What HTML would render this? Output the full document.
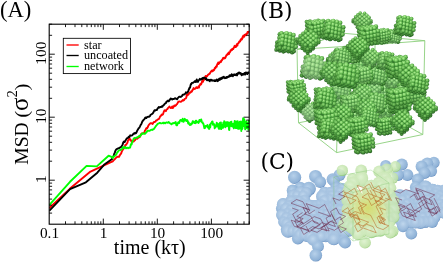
<!DOCTYPE html>
<html><head><meta charset="utf-8"><title>Figure</title><style>html,body{margin:0;padding:0;background:#fff}svg{display:block}</style></head><body>
<svg width="443" height="264" viewBox="0 0 443 264">
<defs><clipPath id="pc"><rect x="49.2" y="24.2" width="200.4" height="200"/></clipPath>
<radialGradient id="bd0" cx="0.42" cy="0.36" r="0.62"><stop offset="0" stop-color="#b4f098"/><stop offset="0.5" stop-color="#7acc62"/><stop offset="0.95" stop-color="#3c8c32"/></radialGradient><radialGradient id="bd1" cx="0.42" cy="0.36" r="0.62"><stop offset="0" stop-color="#a6e68a"/><stop offset="0.5" stop-color="#6ec058"/><stop offset="0.95" stop-color="#36822e"/></radialGradient><radialGradient id="bd2" cx="0.42" cy="0.36" r="0.62"><stop offset="0" stop-color="#96d87c"/><stop offset="0.5" stop-color="#62b24e"/><stop offset="0.95" stop-color="#30762a"/></radialGradient><radialGradient id="bd3" cx="0.42" cy="0.36" r="0.62"><stop offset="0" stop-color="#84c86c"/><stop offset="0.5" stop-color="#56a244"/><stop offset="0.95" stop-color="#2a6a24"/></radialGradient><radialGradient id="bd4" cx="0.42" cy="0.36" r="0.62"><stop offset="0" stop-color="#72b65e"/><stop offset="0.5" stop-color="#4a923a"/><stop offset="0.95" stop-color="#245e20"/></radialGradient><symbol id="c0" overflow="visible"><circle r="8.0" fill="#34782c"/><circle cx="-2.6" cy="-8.1" r="2.15" fill="url(#bd3)"/><circle cx="-2.5" cy="8.2" r="2.15" fill="url(#bd4)"/><circle cx="9.0" cy="-2.8" r="2.15" fill="url(#bd3)"/><circle cx="5.9" cy="-7.3" r="2.15" fill="url(#bd2)"/><circle cx="6.1" cy="9.0" r="2.15" fill="url(#bd4)"/><circle cx="-8.6" cy="-0.8" r="2.15" fill="url(#bd4)"/><circle cx="8.6" cy="0.8" r="2.15" fill="url(#bd3)"/><circle cx="-6.1" cy="-9.0" r="2.15" fill="url(#bd3)"/><circle cx="-5.9" cy="7.3" r="2.15" fill="url(#bd4)"/><circle cx="-9.0" cy="2.8" r="2.15" fill="url(#bd4)"/><circle cx="2.5" cy="-8.2" r="2.15" fill="url(#bd1)"/><circle cx="2.6" cy="8.1" r="2.15" fill="url(#bd4)"/><circle cx="8.2" cy="4.5" r="2.15" fill="url(#bd4)"/><circle cx="-6.5" cy="-5.4" r="2.15" fill="url(#bd3)"/><circle cx="-9.4" cy="6.4" r="2.15" fill="url(#bd4)"/><circle cx="-1.0" cy="-9.1" r="2.15" fill="url(#bd1)"/><circle cx="-0.8" cy="7.3" r="2.15" fill="url(#bd4)"/><circle cx="10.7" cy="-3.7" r="2.15" fill="url(#bd2)"/><circle cx="7.6" cy="-8.2" r="2.15" fill="url(#bd1)"/><circle cx="7.8" cy="8.1" r="2.15" fill="url(#bd4)"/><circle cx="-6.9" cy="-1.8" r="2.15" fill="url(#bd3)"/><circle cx="10.3" cy="-0.1" r="2.15" fill="url(#bd2)"/><circle cx="-4.4" cy="-9.9" r="2.15" fill="url(#bd1)"/><circle cx="-4.2" cy="6.4" r="2.15" fill="url(#bd4)"/><circle cx="7.2" cy="-4.6" r="2.15" fill="url(#bd1)"/><circle cx="-7.3" cy="1.9" r="2.15" fill="url(#bd4)"/><circle cx="4.2" cy="-9.1" r="2.15" fill="url(#bd0)"/><circle cx="4.3" cy="7.2" r="2.15" fill="url(#bd4)"/><circle cx="9.9" cy="3.5" r="2.15" fill="url(#bd2)"/><circle cx="-4.8" cy="-6.3" r="2.15" fill="url(#bd1)"/><circle cx="6.8" cy="-1.0" r="2.15" fill="url(#bd1)"/><circle cx="-7.7" cy="5.5" r="2.15" fill="url(#bd4)"/><circle cx="3.8" cy="-5.5" r="2.15" fill="url(#bd0)"/><circle cx="0.7" cy="-10.0" r="2.15" fill="url(#bd0)"/><circle cx="0.9" cy="6.3" r="2.15" fill="url(#bd3)"/><circle cx="-5.2" cy="-2.7" r="2.15" fill="url(#bd1)"/><circle cx="6.4" cy="2.6" r="2.15" fill="url(#bd2)"/><circle cx="3.4" cy="-1.9" r="2.15" fill="url(#bd0)"/><circle cx="0.3" cy="-6.4" r="2.15" fill="url(#bd0)"/><circle cx="-2.5" cy="5.5" r="2.15" fill="url(#bd3)"/><circle cx="-5.6" cy="0.9" r="2.15" fill="url(#bd2)"/><circle cx="6.0" cy="6.3" r="2.15" fill="url(#bd2)"/><circle cx="3.0" cy="1.8" r="2.15" fill="url(#bd1)"/><circle cx="-0.1" cy="-2.7" r="2.15" fill="url(#bd0)"/><circle cx="-3.1" cy="-7.2" r="2.15" fill="url(#bd0)"/><circle cx="-6.0" cy="4.6" r="2.15" fill="url(#bd3)"/><circle cx="2.6" cy="5.4" r="2.15" fill="url(#bd2)"/><circle cx="-0.5" cy="0.9" r="2.15" fill="url(#bd1)"/><circle cx="-3.5" cy="-3.6" r="2.15" fill="url(#bd0)"/><circle cx="-0.8" cy="4.5" r="2.15" fill="url(#bd2)"/><circle cx="-3.9" cy="0.0" r="2.15" fill="url(#bd1)"/></symbol><symbol id="c1" overflow="visible"><circle r="8.0" fill="#34782c"/><circle cx="-8.3" cy="4.3" r="2.15" fill="url(#bd4)"/><circle cx="5.7" cy="7.5" r="2.15" fill="url(#bd4)"/><circle cx="-2.9" cy="8.1" r="2.15" fill="url(#bd4)"/><circle cx="8.6" cy="-0.6" r="2.15" fill="url(#bd3)"/><circle cx="-8.6" cy="0.6" r="2.15" fill="url(#bd4)"/><circle cx="2.9" cy="-8.1" r="2.15" fill="url(#bd2)"/><circle cx="-5.7" cy="-7.5" r="2.15" fill="url(#bd3)"/><circle cx="8.3" cy="-4.3" r="2.15" fill="url(#bd2)"/><circle cx="-8.8" cy="-3.1" r="2.15" fill="url(#bd4)"/><circle cx="2.3" cy="8.2" r="2.15" fill="url(#bd4)"/><circle cx="-6.3" cy="8.8" r="2.15" fill="url(#bd4)"/><circle cx="8.1" cy="-8.0" r="2.15" fill="url(#bd1)"/><circle cx="-0.5" cy="-7.4" r="2.15" fill="url(#bd1)"/><circle cx="-9.1" cy="-6.8" r="2.15" fill="url(#bd3)"/><circle cx="10.6" cy="3.9" r="2.15" fill="url(#bd3)"/><circle cx="-6.5" cy="5.1" r="2.15" fill="url(#bd4)"/><circle cx="7.5" cy="8.3" r="2.15" fill="url(#bd4)"/><circle cx="-1.1" cy="8.9" r="2.15" fill="url(#bd4)"/><circle cx="10.4" cy="0.2" r="2.15" fill="url(#bd2)"/><circle cx="-6.8" cy="1.4" r="2.15" fill="url(#bd4)"/><circle cx="4.7" cy="-7.3" r="2.15" fill="url(#bd0)"/><circle cx="-3.9" cy="-6.7" r="2.15" fill="url(#bd1)"/><circle cx="7.2" cy="4.6" r="2.15" fill="url(#bd3)"/><circle cx="10.1" cy="-3.5" r="2.15" fill="url(#bd1)"/><circle cx="-7.0" cy="-2.3" r="2.15" fill="url(#bd3)"/><circle cx="4.1" cy="9.0" r="2.15" fill="url(#bd4)"/><circle cx="-4.5" cy="9.6" r="2.15" fill="url(#bd4)"/><circle cx="7.0" cy="0.9" r="2.15" fill="url(#bd1)"/><circle cx="1.3" cy="-6.6" r="2.15" fill="url(#bd0)"/><circle cx="-7.3" cy="-6.0" r="2.15" fill="url(#bd2)"/><circle cx="3.8" cy="5.3" r="2.15" fill="url(#bd3)"/><circle cx="-4.8" cy="5.9" r="2.15" fill="url(#bd4)"/><circle cx="6.7" cy="-2.8" r="2.15" fill="url(#bd0)"/><circle cx="0.7" cy="9.7" r="2.15" fill="url(#bd4)"/><circle cx="3.6" cy="1.6" r="2.15" fill="url(#bd1)"/><circle cx="-5.0" cy="2.2" r="2.15" fill="url(#bd3)"/><circle cx="6.5" cy="-6.5" r="2.15" fill="url(#bd0)"/><circle cx="-2.1" cy="-5.9" r="2.15" fill="url(#bd0)"/><circle cx="0.4" cy="6.0" r="2.15" fill="url(#bd3)"/><circle cx="3.3" cy="-2.1" r="2.15" fill="url(#bd0)"/><circle cx="-5.2" cy="-1.5" r="2.15" fill="url(#bd1)"/><circle cx="0.2" cy="2.3" r="2.15" fill="url(#bd1)"/><circle cx="3.1" cy="-5.8" r="2.15" fill="url(#bd0)"/><circle cx="-5.5" cy="-5.2" r="2.15" fill="url(#bd1)"/><circle cx="-3.0" cy="6.7" r="2.15" fill="url(#bd3)"/><circle cx="-0.1" cy="-1.4" r="2.15" fill="url(#bd0)"/><circle cx="-3.2" cy="3.0" r="2.15" fill="url(#bd2)"/><circle cx="-0.3" cy="-5.1" r="2.15" fill="url(#bd0)"/><circle cx="-3.5" cy="-0.7" r="2.15" fill="url(#bd1)"/></symbol><symbol id="c2" overflow="visible"><circle r="8.0" fill="#34782c"/><circle cx="3.1" cy="-8.9" r="2.15" fill="url(#bd2)"/><circle cx="-2.4" cy="-9.1" r="2.15" fill="url(#bd3)"/><circle cx="5.2" cy="6.9" r="2.15" fill="url(#bd4)"/><circle cx="-5.7" cy="6.4" r="2.15" fill="url(#bd4)"/><circle cx="10.9" cy="0.4" r="2.15" fill="url(#bd3)"/><circle cx="-10.9" cy="-0.4" r="2.15" fill="url(#bd4)"/><circle cx="5.7" cy="-6.4" r="2.15" fill="url(#bd2)"/><circle cx="-5.2" cy="-6.9" r="2.15" fill="url(#bd3)"/><circle cx="2.4" cy="9.1" r="2.15" fill="url(#bd4)"/><circle cx="-3.1" cy="8.9" r="2.15" fill="url(#bd4)"/><circle cx="8.1" cy="2.7" r="2.15" fill="url(#bd4)"/><circle cx="-8.2" cy="2.0" r="2.15" fill="url(#bd4)"/><circle cx="8.4" cy="-3.9" r="2.15" fill="url(#bd2)"/><circle cx="-8.0" cy="-4.6" r="2.15" fill="url(#bd3)"/><circle cx="-0.4" cy="11.3" r="2.15" fill="url(#bd4)"/><circle cx="3.2" cy="-10.8" r="2.15" fill="url(#bd1)"/><circle cx="-2.2" cy="-11.0" r="2.15" fill="url(#bd1)"/><circle cx="5.3" cy="4.9" r="2.15" fill="url(#bd4)"/><circle cx="-5.6" cy="4.5" r="2.15" fill="url(#bd4)"/><circle cx="11.0" cy="-1.5" r="2.15" fill="url(#bd2)"/><circle cx="-10.7" cy="-2.4" r="2.15" fill="url(#bd4)"/><circle cx="5.9" cy="-8.3" r="2.15" fill="url(#bd0)"/><circle cx="0.4" cy="-8.6" r="2.15" fill="url(#bd0)"/><circle cx="-5.0" cy="-8.8" r="2.15" fill="url(#bd2)"/><circle cx="2.5" cy="7.2" r="2.15" fill="url(#bd4)"/><circle cx="-2.9" cy="7.0" r="2.15" fill="url(#bd4)"/><circle cx="8.2" cy="0.8" r="2.15" fill="url(#bd2)"/><circle cx="-8.1" cy="0.1" r="2.15" fill="url(#bd3)"/><circle cx="8.5" cy="-5.9" r="2.15" fill="url(#bd0)"/><circle cx="3.1" cy="-6.1" r="2.15" fill="url(#bd0)"/><circle cx="-2.4" cy="-6.3" r="2.15" fill="url(#bd0)"/><circle cx="-7.8" cy="-6.5" r="2.15" fill="url(#bd2)"/><circle cx="-0.3" cy="9.4" r="2.15" fill="url(#bd4)"/><circle cx="5.4" cy="3.0" r="2.15" fill="url(#bd2)"/><circle cx="-5.5" cy="2.6" r="2.15" fill="url(#bd3)"/><circle cx="5.7" cy="-3.6" r="2.15" fill="url(#bd0)"/><circle cx="0.3" cy="-3.9" r="2.15" fill="url(#bd0)"/><circle cx="-5.2" cy="-4.1" r="2.15" fill="url(#bd1)"/><circle cx="2.6" cy="5.2" r="2.15" fill="url(#bd2)"/><circle cx="-2.8" cy="5.0" r="2.15" fill="url(#bd3)"/><circle cx="8.4" cy="-1.2" r="2.15" fill="url(#bd1)"/><circle cx="2.9" cy="-1.4" r="2.15" fill="url(#bd0)"/><circle cx="-2.5" cy="-1.6" r="2.15" fill="url(#bd1)"/><circle cx="-8.0" cy="-1.8" r="2.15" fill="url(#bd2)"/><circle cx="-0.2" cy="7.5" r="2.15" fill="url(#bd3)"/><circle cx="5.6" cy="1.1" r="2.15" fill="url(#bd1)"/><circle cx="0.1" cy="0.9" r="2.15" fill="url(#bd1)"/><circle cx="-5.3" cy="0.6" r="2.15" fill="url(#bd2)"/><circle cx="2.8" cy="3.3" r="2.15" fill="url(#bd1)"/><circle cx="-2.7" cy="3.1" r="2.15" fill="url(#bd2)"/></symbol><filter id="soft" x="-5%" y="-5%" width="110%" height="110%"><feGaussianBlur stdDeviation="0.3"/></filter><radialGradient id="bl" cx="0.42" cy="0.38" r="0.62"><stop offset="0" stop-color="#b7d1ea"/><stop offset="0.55" stop-color="#9cbcdd"/><stop offset="0.86" stop-color="#8eb1d6"/><stop offset="1" stop-color="#6e94c3"/></radialGradient><radialGradient id="gr" cx="0.42" cy="0.38" r="0.62"><stop offset="0" stop-color="#dcf1cc"/><stop offset="0.55" stop-color="#c8e7b2"/><stop offset="0.86" stop-color="#bce0a4"/><stop offset="1" stop-color="#98ca7a"/></radialGradient><radialGradient id="blc" cx="0.45" cy="0.42" r="0.6"><stop offset="0" stop-color="#c0d7ed"/><stop offset="0.5" stop-color="#a9c5e2"/><stop offset="1" stop-color="#9fbddd" stop-opacity="0"/></radialGradient><radialGradient id="grc" cx="0.45" cy="0.42" r="0.6"><stop offset="0" stop-color="#dcf1cc"/><stop offset="0.5" stop-color="#cbe8b6"/><stop offset="1" stop-color="#c4e4ae" stop-opacity="0"/></radialGradient><radialGradient id="yl" cx="0.5" cy="0.5" r="0.5"><stop offset="0" stop-color="#d6d85c" stop-opacity="0.8"/><stop offset="1" stop-color="#d9d860" stop-opacity="0"/></radialGradient>
</defs>
<rect width="443" height="264" fill="#fff"/>
<g clip-path="url(#pc)" fill="none" stroke-width="1.9" stroke-linejoin="round" stroke-linecap="butt">
<path stroke="#f00" d="M49.2 208.2 L70.0 188.6 L90.5 171.6 L112.0 161.6 L112.7 161.5 L113.4 160.5 L114.1 159.9 L114.8 159.3 L115.5 158.3 L116.2 157.6 L116.9 157.1 L117.6 156.7 L118.3 156.6 L119.0 156.9 L119.7 155.5 L120.4 154.3 L121.1 153.6 L121.8 151.4 L122.5 150.3 L123.2 149.1 L123.9 148.1 L124.6 147.4 L125.3 145.0 L126.0 144.9 L126.7 143.7 L127.4 142.7 L128.1 140.2 L128.8 139.6 L129.5 138.0 L130.2 139.9 L130.9 140.2 L131.6 142.0 L132.3 141.6 L133.0 141.6 L133.7 141.5 L134.4 140.2 L135.1 140.2 L135.8 138.8 L136.5 137.8 L137.2 138.8 L137.9 138.1 L138.6 137.2 L139.3 137.3 L140.0 136.7 L140.7 135.0 L141.4 133.6 L142.1 133.4 L142.8 133.6 L143.5 133.1 L144.2 132.9 L144.9 130.7 L145.6 129.9 L146.3 128.2 L147.0 128.4 L147.7 127.3 L148.4 125.5 L149.1 124.6 L149.8 123.8 L150.5 123.3 L151.2 123.3 L151.9 123.4 L152.6 123.9 L153.3 122.7 L154.0 122.0 L154.7 122.0 L155.4 121.7 L156.1 120.5 L156.8 120.4 L157.5 119.7 L158.2 119.2 L158.9 118.9 L159.6 117.7 L160.3 116.2 L161.0 115.7 L161.7 114.5 L162.4 114.8 L163.1 114.0 L163.8 111.7 L164.5 110.3 L165.2 110.5 L165.9 111.2 L166.6 109.5 L167.3 109.2 L168.0 108.0 L168.7 107.5 L169.4 106.5 L170.1 107.3 L170.8 108.0 L171.5 107.8 L172.2 106.4 L172.9 108.0 L173.6 106.7 L174.3 105.4 L175.0 106.1 L175.7 105.6 L176.4 104.6 L177.1 104.1 L177.8 102.7 L178.5 101.6 L179.2 101.5 L179.9 101.6 L180.6 101.7 L181.3 101.6 L182.0 100.8 L182.7 100.1 L183.4 100.6 L184.1 100.0 L184.8 98.8 L185.5 98.5 L185.9 98.3 L186.4 97.2 L186.8 94.4 L187.3 95.0 L187.7 95.2 L188.2 94.2 L188.6 94.5 L189.1 92.7 L189.5 92.8 L190.0 92.6 L190.4 92.7 L190.9 92.2 L191.3 91.2 L191.8 91.7 L192.2 90.8 L192.7 89.6 L193.1 89.3 L193.6 88.1 L194.0 89.2 L194.5 88.8 L194.9 88.7 L195.4 88.6 L195.8 88.2 L196.3 87.2 L196.7 87.7 L197.2 88.1 L197.6 87.9 L198.1 87.3 L198.5 86.5 L199.0 87.6 L199.4 85.6 L199.9 85.2 L200.3 84.1 L200.8 84.6 L201.2 84.2 L201.7 82.6 L202.1 81.4 L202.6 80.1 L203.0 81.9 L203.5 79.3 L203.9 79.9 L204.4 79.5 L204.8 78.1 L205.3 77.0 L205.7 75.9 L206.2 76.1 L206.6 76.7 L207.1 76.1 L207.5 75.6 L208.0 74.8 L208.4 74.5 L208.9 74.3 L209.3 73.6 L209.8 73.7 L210.2 72.7 L210.7 72.0 L211.1 71.2 L211.6 71.3 L212.0 70.4 L212.5 71.3 L212.9 71.0 L213.4 69.9 L213.8 70.3 L214.3 69.7 L214.7 68.2 L215.2 67.6 L215.5 68.1 L215.8 66.6 L216.1 66.5 L216.4 66.8 L216.7 66.8 L217.0 65.1 L217.3 64.5 L217.6 63.7 L217.9 63.6 L218.2 62.5 L218.5 64.1 L218.8 63.5 L219.1 63.5 L219.4 62.6 L219.7 62.7 L220.0 62.4 L220.3 61.8 L220.6 61.2 L220.9 62.1 L221.2 61.6 L221.5 60.4 L221.8 60.3 L222.1 60.1 L222.4 59.6 L222.7 58.8 L223.0 58.2 L223.3 57.7 L223.6 58.0 L223.9 58.6 L224.2 58.0 L224.5 57.8 L224.8 58.0 L225.1 58.2 L225.4 57.8 L225.7 56.9 L226.0 55.9 L226.3 55.8 L226.6 54.9 L226.9 54.6 L227.2 54.2 L227.5 54.7 L227.8 54.2 L228.1 53.7 L228.4 52.8 L228.7 52.5 L229.0 54.0 L229.3 52.9 L229.6 52.4 L229.9 52.2 L230.2 51.8 L230.5 50.5 L230.8 50.2 L231.1 50.4 L231.4 49.6 L231.7 49.2 L232.0 50.2 L232.3 49.6 L232.6 48.9 L232.9 48.6 L233.2 49.1 L233.5 48.6 L233.8 47.6 L234.1 47.6 L234.4 46.1 L234.7 45.8 L235.0 46.7 L235.3 46.6 L235.6 47.1 L235.9 46.9 L236.2 46.6 L236.5 45.6 L236.8 44.3 L237.1 44.6 L237.4 45.5 L237.7 43.7 L238.0 43.4 L238.3 43.2 L238.6 43.1 L238.9 42.5 L239.2 41.6 L239.5 41.2 L239.8 41.4 L240.1 41.5 L240.4 40.6 L240.7 39.5 L241.0 40.0 L241.3 39.5 L241.6 38.5 L241.9 39.5 L242.2 38.8 L242.5 38.4 L242.8 36.4 L243.1 36.3 L243.4 35.6 L243.7 35.8 L244.0 36.9 L244.3 36.1 L244.6 35.6 L244.9 34.6 L245.2 34.9 L245.5 34.5 L245.8 34.2 L246.1 35.4 L246.4 34.7 L246.7 34.3 L247.0 33.2 L247.3 33.4 L247.6 31.9 L247.9 32.9 L248.2 32.0 L248.5 31.8 L248.8 32.0 L249.1 32.4"/>
<path stroke="#000" d="M49.2 210.8 L70.0 189.1 L85.9 182.3 L97.3 172.7 L104.0 164.8 L111.4 159.5 L112.0 159.1 L112.7 157.2 L113.4 156.6 L114.1 154.2 L114.8 152.6 L115.5 150.6 L116.2 149.5 L116.9 148.9 L117.6 148.8 L118.3 148.2 L119.0 148.2 L119.7 147.9 L120.4 147.1 L121.1 147.1 L121.8 146.0 L122.5 144.9 L123.2 142.6 L123.9 141.6 L124.6 142.1 L125.3 140.8 L126.0 139.7 L126.7 138.6 L127.4 138.1 L128.1 137.7 L128.8 136.6 L129.5 136.9 L130.2 135.3 L130.9 135.6 L131.6 135.6 L132.3 135.2 L133.0 134.3 L133.7 133.5 L134.4 133.7 L135.1 132.7 L135.8 133.4 L136.5 132.5 L137.2 130.7 L137.9 129.6 L138.6 128.3 L139.3 127.8 L140.0 126.4 L140.7 124.9 L141.4 124.0 L142.1 122.0 L142.8 120.8 L143.5 120.0 L144.2 119.4 L144.9 118.2 L145.6 117.4 L146.3 118.0 L147.0 117.2 L147.7 116.9 L148.4 116.6 L149.1 116.8 L149.8 116.3 L150.5 114.9 L151.2 114.5 L151.9 114.1 L152.6 113.5 L153.3 112.7 L154.0 111.1 L154.7 110.2 L155.4 110.5 L156.1 110.0 L156.8 110.1 L157.5 108.7 L158.2 107.8 L158.9 107.0 L159.6 107.5 L160.3 107.0 L161.0 107.0 L161.7 106.3 L162.4 106.8 L163.1 105.6 L163.8 105.1 L164.5 104.1 L165.2 103.4 L165.9 103.1 L166.6 101.4 L167.3 101.4 L168.0 100.5 L168.7 101.3 L169.4 100.6 L170.1 99.3 L170.8 98.5 L171.5 98.9 L172.2 99.5 L172.9 98.9 L173.6 99.0 L174.3 98.9 L175.0 98.2 L175.7 98.4 L176.4 98.9 L177.1 99.3 L177.8 98.1 L178.5 97.4 L179.2 96.7 L179.9 96.7 L180.6 97.0 L181.3 96.6 L182.0 96.0 L182.7 94.6 L183.4 94.7 L184.1 94.5 L184.8 94.0 L185.5 93.3 L185.9 92.3 L186.4 92.9 L186.8 92.7 L187.3 92.8 L187.7 91.7 L188.2 91.4 L188.6 90.0 L189.1 89.0 L189.5 87.7 L190.0 87.8 L190.4 86.0 L190.9 83.9 L191.3 84.1 L191.8 83.0 L192.2 83.0 L192.7 82.7 L193.1 82.7 L193.6 82.3 L194.0 82.2 L194.5 81.4 L194.9 81.1 L195.4 81.4 L195.8 82.1 L196.3 80.7 L196.7 79.5 L197.2 81.3 L197.6 81.8 L198.1 81.7 L198.5 80.4 L199.0 79.9 L199.4 79.6 L199.9 78.8 L200.3 79.7 L200.8 79.5 L201.2 79.5 L201.7 78.7 L202.1 79.1 L202.6 78.0 L203.0 78.7 L203.5 77.7 L203.9 77.7 L204.4 77.7 L204.8 77.6 L205.3 78.6 L205.7 79.1 L206.2 78.3 L206.6 79.9 L207.1 80.4 L207.5 80.2 L208.0 79.7 L208.4 79.8 L208.9 80.2 L209.3 80.9 L209.8 81.2 L210.2 79.6 L210.7 80.1 L211.1 80.2 L211.6 79.8 L212.0 80.7 L212.5 80.6 L212.9 80.4 L213.4 80.5 L213.8 80.6 L214.3 80.9 L214.7 80.2 L215.2 80.9 L215.5 80.4 L215.8 80.9 L216.1 80.1 L216.4 79.7 L216.7 79.5 L217.0 79.5 L217.3 80.3 L217.6 81.2 L217.9 81.0 L218.2 80.4 L218.5 79.7 L218.8 79.6 L219.1 78.7 L219.4 79.5 L219.7 79.9 L220.0 79.4 L220.3 78.3 L220.6 79.1 L220.9 78.8 L221.2 78.0 L221.5 78.9 L221.8 78.7 L222.1 78.5 L222.4 77.3 L222.7 77.6 L223.0 77.8 L223.3 77.5 L223.6 76.8 L223.9 76.7 L224.2 77.8 L224.5 77.9 L224.8 78.3 L225.1 78.1 L225.4 77.7 L225.7 78.0 L226.0 78.1 L226.3 77.3 L226.6 76.9 L226.9 76.9 L227.2 77.6 L227.5 77.2 L227.8 76.8 L228.1 77.1 L228.4 76.7 L228.7 76.3 L229.0 76.7 L229.3 76.4 L229.6 75.3 L229.9 76.3 L230.2 75.7 L230.5 75.3 L230.8 75.7 L231.1 76.0 L231.4 75.5 L231.7 74.1 L232.0 75.4 L232.3 74.8 L232.6 74.9 L232.9 76.2 L233.2 75.1 L233.5 75.2 L233.8 74.6 L234.1 74.2 L234.4 75.1 L234.7 74.9 L235.0 74.7 L235.3 74.6 L235.6 75.1 L235.9 75.2 L236.2 75.1 L236.5 73.9 L236.8 74.6 L237.1 75.4 L237.4 74.0 L237.7 73.2 L238.0 73.8 L238.3 73.8 L238.6 72.9 L238.9 72.4 L239.2 73.4 L239.5 72.7 L239.8 73.1 L240.1 73.7 L240.4 73.5 L240.7 73.0 L241.0 74.0 L241.3 74.4 L241.6 75.3 L241.9 75.1 L242.2 74.0 L242.5 74.2 L242.8 74.0 L243.1 74.6 L243.4 73.8 L243.7 74.1 L244.0 74.4 L244.3 73.8 L244.6 73.0 L244.9 74.1 L245.2 74.6 L245.5 73.3 L245.8 72.6 L246.1 72.4 L246.4 72.7 L246.7 73.1 L247.0 73.4 L247.3 74.1 L247.6 72.7 L247.9 72.5 L248.2 73.1 L248.5 72.4 L248.8 72.1 L249.1 71.8"/>
<path stroke="#0f0" d="M49.2 205.2 L70.0 181.8 L86.6 165.9 L96.8 166.4 L108.6 155.7 L112.0 157.2 L112.7 158.0 L113.4 156.5 L114.1 156.5 L114.8 155.9 L115.5 155.1 L116.2 154.7 L116.9 153.0 L117.6 152.1 L118.3 151.1 L119.0 150.6 L119.7 150.1 L120.4 150.1 L121.1 149.6 L121.8 149.3 L122.5 148.3 L123.2 147.0 L123.9 148.1 L124.6 147.2 L125.3 147.0 L126.0 148.3 L126.7 148.0 L127.4 147.7 L128.1 148.2 L128.8 147.7 L129.5 147.9 L130.2 147.4 L130.9 144.2 L131.6 144.5 L132.3 141.6 L133.0 140.5 L133.7 138.6 L134.4 138.0 L135.1 138.1 L135.8 137.9 L136.5 137.6 L137.2 137.5 L137.9 136.9 L138.6 136.8 L139.3 135.7 L140.0 136.4 L140.7 135.2 L141.4 134.3 L142.1 133.5 L142.8 133.8 L143.5 133.3 L144.2 133.8 L144.9 133.9 L145.6 133.1 L146.3 132.3 L147.0 131.5 L147.7 130.7 L148.4 130.9 L149.1 130.6 L149.8 130.7 L150.5 130.3 L151.2 129.8 L151.9 129.6 L152.6 130.0 L153.3 129.1 L154.0 128.9 L154.7 127.8 L155.4 126.8 L156.1 125.7 L156.8 125.1 L157.5 124.0 L158.2 123.6 L158.9 123.3 L159.6 122.9 L160.3 123.0 L161.0 123.4 L161.7 123.4 L162.4 123.2 L163.1 122.6 L163.8 123.4 L164.5 122.7 L165.2 123.2 L165.9 122.6 L166.6 122.4 L167.3 122.7 L168.0 122.6 L168.7 121.9 L169.4 123.0 L170.1 123.3 L170.8 123.8 L171.5 124.3 L172.2 123.5 L172.9 123.1 L173.6 123.3 L174.3 122.8 L175.0 123.3 L175.7 122.0 L176.4 125.4 L177.1 125.3 L177.8 123.1 L178.5 122.2 L179.2 123.0 L179.9 120.9 L180.6 119.9 L181.3 120.1 L182.0 121.3 L182.7 118.7 L183.4 121.9 L184.1 120.7 L184.8 118.8 L185.5 120.3 L185.9 120.7 L186.4 121.0 L186.8 119.9 L187.3 120.4 L187.7 121.0 L188.2 123.5 L188.6 122.3 L189.1 123.6 L189.5 124.5 L190.0 125.1 L190.4 124.3 L190.9 124.8 L191.3 123.4 L191.8 123.9 L192.2 123.5 L192.7 121.3 L193.1 121.8 L193.6 121.4 L194.0 122.6 L194.5 123.1 L194.9 121.9 L195.4 123.2 L195.8 120.7 L196.3 120.7 L196.7 122.6 L197.2 121.8 L197.6 121.8 L198.1 122.4 L198.5 122.9 L199.0 121.2 L199.4 120.0 L199.9 121.5 L200.3 120.1 L200.8 120.6 L201.2 119.4 L201.7 121.2 L202.1 122.5 L202.6 122.2 L203.0 123.5 L203.5 123.9 L203.9 126.1 L204.4 128.2 L204.8 128.1 L205.3 126.5 L205.7 125.9 L206.2 126.6 L206.6 126.0 L207.1 125.4 L207.5 125.1 L208.0 127.5 L208.4 127.6 L208.9 128.8 L209.3 128.9 L209.8 124.8 L210.2 127.3 L210.7 123.5 L211.1 123.3 L211.6 122.8 L212.0 121.6 L212.5 121.4 L212.9 124.7 L213.4 124.4 L213.8 123.8 L214.3 124.9 L214.7 128.4 L215.2 125.9 L215.5 127.1 L215.8 126.8 L216.1 125.0 L216.4 125.1 L216.7 122.8 L217.0 126.2 L217.3 125.4 L217.6 126.5 L217.9 123.8 L218.2 126.5 L218.5 126.8 L218.8 128.8 L219.1 125.1 L219.4 128.8 L219.7 124.2 L220.0 122.6 L220.3 122.8 L220.6 124.2 L220.9 122.4 L221.2 129.1 L221.5 124.7 L221.8 127.3 L222.1 125.5 L222.4 126.2 L222.7 127.0 L223.0 127.9 L223.3 122.7 L223.6 126.3 L223.9 126.6 L224.2 121.1 L224.5 121.6 L224.8 126.1 L225.1 124.2 L225.4 127.2 L225.7 126.2 L226.0 122.5 L226.3 125.1 L226.6 126.0 L226.9 122.1 L227.2 123.9 L227.5 122.3 L227.8 125.7 L228.1 126.2 L228.4 122.7 L228.7 122.4 L229.0 129.5 L229.3 130.0 L229.6 125.1 L229.9 124.5 L230.2 126.2 L230.5 122.3 L230.8 125.5 L231.1 125.3 L231.4 121.7 L231.7 126.2 L232.0 126.2 L232.3 125.7 L232.6 125.6 L232.9 126.8 L233.2 123.6 L233.5 125.4 L233.8 128.3 L234.1 126.7 L234.4 124.5 L234.7 121.0 L235.0 127.4 L235.3 127.6 L235.6 123.3 L235.9 128.1 L236.2 121.4 L236.5 127.5 L236.8 123.8 L237.1 125.3 L237.4 128.2 L237.7 121.1 L238.0 123.9 L238.3 128.9 L238.6 128.4 L238.9 125.4 L239.2 128.9 L239.5 127.6 L239.8 121.8 L240.1 125.3 L240.4 126.1 L240.7 128.4 L241.0 121.4 L241.3 131.0 L241.6 123.6 L241.9 125.4 L242.2 129.0 L242.5 127.9 L242.8 123.8 L243.1 118.2 L243.4 126.1 L243.7 123.6 L244.0 122.8 L244.3 119.1 L244.6 125.3 L244.9 125.6 L245.2 129.4 L245.5 128.2 L245.8 126.2 L246.1 122.7 L246.4 121.1 L246.7 122.2 L247.0 128.2 L247.3 128.3 L247.6 125.4 L247.9 128.3 L248.2 123.3 L248.5 129.9 L248.8 123.4 L249.1 120.0"/>
</g>
<path d="M65.5 224.2V221.3M65.5 24.2V27.1M75.0 224.2V221.3M75.0 24.2V27.1M81.8 224.2V221.3M81.8 24.2V27.1M87.0 224.2V221.3M87.0 24.2V27.1M91.3 224.2V221.3M91.3 24.2V27.1M94.9 224.2V221.3M94.9 24.2V27.1M98.0 224.2V221.3M98.0 24.2V27.1M100.8 224.2V221.3M100.8 24.2V27.1M103.3 224.2V218.6M103.3 24.2V29.8M119.5 224.2V221.3M119.5 24.2V27.1M129.1 224.2V221.3M129.1 24.2V27.1M135.8 224.2V221.3M135.8 24.2V27.1M141.1 224.2V221.3M141.1 24.2V27.1M145.3 224.2V221.3M145.3 24.2V27.1M149.0 224.2V221.3M149.0 24.2V27.1M152.1 224.2V221.3M152.1 24.2V27.1M154.9 224.2V221.3M154.9 24.2V27.1M157.3 224.2V218.6M157.3 24.2V29.8M173.6 224.2V221.3M173.6 24.2V27.1M183.1 224.2V221.3M183.1 24.2V27.1M189.9 224.2V221.3M189.9 24.2V27.1M195.1 224.2V221.3M195.1 24.2V27.1M199.4 224.2V221.3M199.4 24.2V27.1M203.0 224.2V221.3M203.0 24.2V27.1M206.2 224.2V221.3M206.2 24.2V27.1M208.9 224.2V221.3M208.9 24.2V27.1M211.4 224.2V218.6M211.4 24.2V29.8M227.7 224.2V221.3M227.7 24.2V27.1M237.2 224.2V221.3M237.2 24.2V27.1M244.0 224.2V221.3M244.0 24.2V27.1M249.2 224.2V221.3M249.2 24.2V27.1M49.2 213.1H52.1M249.2 213.1H246.3M49.2 205.2H52.1M249.2 205.2H246.3M49.2 199.1H52.1M249.2 199.1H246.3M49.2 194.2H52.1M249.2 194.2H246.3M49.2 189.9H52.1M249.2 189.9H246.3M49.2 186.3H52.1M249.2 186.3H246.3M49.2 183.1H52.1M249.2 183.1H246.3M49.2 180.2H54.8M249.2 180.2H243.6M49.2 161.2H52.1M249.2 161.2H246.3M49.2 150.1H52.1M249.2 150.1H246.3M49.2 142.3H52.1M249.2 142.3H246.3M49.2 136.2H52.1M249.2 136.2H246.3M49.2 131.2H52.1M249.2 131.2H246.3M49.2 127.0H52.1M249.2 127.0H246.3M49.2 123.3H52.1M249.2 123.3H246.3M49.2 120.1H52.1M249.2 120.1H246.3M49.2 117.2H54.8M249.2 117.2H243.6M49.2 98.3H52.1M249.2 98.3H246.3M49.2 87.2H52.1M249.2 87.2H246.3M49.2 79.3H52.1M249.2 79.3H246.3M49.2 73.2H52.1M249.2 73.2H246.3M49.2 68.2H52.1M249.2 68.2H246.3M49.2 64.0H52.1M249.2 64.0H246.3M49.2 60.3H52.1M249.2 60.3H246.3M49.2 57.1H52.1M249.2 57.1H246.3M49.2 54.2H54.8M249.2 54.2H243.6M49.2 35.3H52.1M249.2 35.3H246.3M49.2 24.2H52.1M249.2 24.2H246.3" stroke="#000" stroke-width="0.9" fill="none"/>
<rect x="49.2" y="24.2" width="200.0" height="200.0" fill="none" stroke="#000" stroke-width="1.1"/>
<rect x="63.3" y="38.3" width="67.2" height="35.3" fill="#fff" stroke="#000" stroke-width="0.85"/>
<path d="M66.5 45.0H78.7" stroke="#f00" stroke-width="1.35"/>
<text x="84" y="48.8" font-family="'Liberation Serif',serif" font-size="12.2" fill="#000">star</text>
<path d="M66.5 55.5H78.7" stroke="#000" stroke-width="1.35"/>
<text x="84" y="59.3" font-family="'Liberation Serif',serif" font-size="12.2" fill="#000">uncoated</text>
<path d="M66.5 66.5H78.7" stroke="#0f0" stroke-width="1.35"/>
<text x="84" y="70.3" font-family="'Liberation Serif',serif" font-size="12.2" fill="#000">network</text>
<text x="49.5" y="238.2" text-anchor="middle" font-family="'Liberation Serif',serif" font-size="15.3">0.1</text>
<text x="103.6" y="238.2" text-anchor="middle" font-family="'Liberation Serif',serif" font-size="15.3">1</text>
<text x="157.6" y="238.2" text-anchor="middle" font-family="'Liberation Serif',serif" font-size="15.3">10</text>
<text x="211.7" y="238.2" text-anchor="middle" font-family="'Liberation Serif',serif" font-size="15.3">100</text>
<text transform="translate(46 179.2) rotate(-90)" text-anchor="middle" font-family="'Liberation Serif',serif" font-size="15.3">1</text>
<text transform="translate(46 116.2) rotate(-90)" text-anchor="middle" font-family="'Liberation Serif',serif" font-size="15.3">10</text>
<text transform="translate(46 53.2) rotate(-90)" text-anchor="middle" font-family="'Liberation Serif',serif" font-size="15.3">100</text>
<text x="149.8" y="254.4" text-anchor="middle" font-family="'Liberation Serif',serif" font-size="20">time (kτ)</text>
<text transform="translate(27.9 124.2) rotate(-90)" text-anchor="middle" font-family="'Liberation Serif',serif" font-size="19.6">MSD (<tspan font-size="25">σ</tspan><tspan dy="-10.6" font-size="14.5">2</tspan><tspan dy="10.6">)</tspan></text>
<text x="0" y="16.8" font-family="'Liberation Serif',serif" font-size="22.6">(A)</text>
<text x="259.4" y="17.6" font-family="'DejaVu Serif',serif" font-size="21.8">(B)</text>
<text x="260.4" y="169.4" font-family="'DejaVu Serif',serif" font-size="21.8">(C)</text>
<path d="M297.0 49.4L341.8 33.1M341.8 33.1L424.8 40.7M424.8 40.7L375.0 44.6M375.0 44.6L297.0 49.4M298.5 122.8L336.6 152.6M336.6 152.6L422.8 134.5M422.8 134.5L375.0 108.0M375.0 108.0L298.5 122.8M297.0 49.4L298.5 122.8M424.8 40.7L422.8 134.5M375.0 44.6L375.0 108.0" stroke="#8ccf7c" stroke-width="0.9" fill="none"/>
<g filter="url(#soft)">
<use href="#c0" transform="translate(393.9 36.8) scale(0.648)"/>
<circle cx="393.9" cy="36.8" r="6.8" fill="#e8f5e4" opacity="0.15"/>
<use href="#c1" transform="translate(385.0 92.0) scale(0.912)"/>
<circle cx="385.0" cy="92.0" r="9.5" fill="#e8f5e4" opacity="0.20"/>
<use href="#c0" transform="translate(361.0 66.0) scale(0.912)"/>
<circle cx="361.0" cy="66.0" r="9.5" fill="#e8f5e4" opacity="0.12"/>
<use href="#c2" transform="translate(392.0 80.0) scale(0.864)"/>
<circle cx="392.0" cy="80.0" r="9.0" fill="#e8f5e4" opacity="0.18"/>
<use href="#c0" transform="translate(404.0 93.0) scale(0.864)"/>
<circle cx="404.0" cy="93.0" r="9.0" fill="#e8f5e4" opacity="0.15"/>
<use href="#c2" transform="translate(340.0 100.0) scale(0.864)"/>
<circle cx="340.0" cy="100.0" r="9.0" fill="#e8f5e4" opacity="0.15"/>
<use href="#c2" transform="translate(372.0 89.0) scale(0.912)"/>
<circle cx="372.0" cy="89.0" r="9.5" fill="#e8f5e4" opacity="0.20"/>
<use href="#c0" transform="translate(340.0 90.0) scale(0.912)"/>
<circle cx="340.0" cy="90.0" r="9.5" fill="#e8f5e4" opacity="0.20"/>
<use href="#c1" transform="translate(352.0 116.0) scale(0.912)"/>
<circle cx="352.0" cy="116.0" r="9.5" fill="#e8f5e4" opacity="0.15"/>
<use href="#c2" transform="translate(386.0 110.0) scale(0.912)"/>
<circle cx="386.0" cy="110.0" r="9.5" fill="#e8f5e4" opacity="0.15"/>
<use href="#c0" transform="translate(376.5 76.0) scale(0.912)"/>
<circle cx="376.5" cy="76.0" r="9.5" fill="#e8f5e4" opacity="0.12"/>
<use href="#c2" transform="translate(337.0 61.0) scale(0.864)"/>
<circle cx="337.0" cy="61.0" r="9.0" fill="#e8f5e4" opacity="0.15"/>
<use href="#c1" transform="translate(381.4 35.7) scale(0.768)"/>
<circle cx="381.4" cy="35.7" r="8.0" fill="#e8f5e4" opacity="0.05"/>
<use href="#c2" transform="translate(310.0 112.0) scale(0.816)"/>
<circle cx="310.0" cy="112.0" r="8.5" fill="#e8f5e4" opacity="0.30"/>
<use href="#c0" transform="translate(313.0 68.0) scale(1.152)"/>
<circle cx="313.0" cy="68.0" r="12.0" fill="#e8f5e4" opacity="0.28"/>
<use href="#c1" transform="translate(384.0 125.5) scale(0.864)"/>
<use href="#c2" transform="translate(362.0 22.0) scale(0.816)"/>
<circle cx="362.0" cy="22.0" r="8.5" fill="#e8f5e4" opacity="0.10"/>
<use href="#c1" transform="translate(352.0 53.6) scale(0.864)"/>
<circle cx="352.0" cy="53.6" r="9.0" fill="#e8f5e4" opacity="0.10"/>
<use href="#c0" transform="translate(341.0 58.0) scale(0.864)"/>
<circle cx="341.0" cy="58.0" r="9.0" fill="#e8f5e4" opacity="0.10"/>
<use href="#c2" transform="translate(370.0 59.0) scale(0.864)"/>
<circle cx="370.0" cy="59.0" r="9.0" fill="#e8f5e4" opacity="0.10"/>
<use href="#c0" transform="translate(386.0 61.5) scale(0.864)"/>
<circle cx="386.0" cy="61.5" r="9.0" fill="#e8f5e4" opacity="0.10"/>
<use href="#c1" transform="translate(362.0 75.0) scale(0.912)"/>
<circle cx="362.0" cy="75.0" r="9.5" fill="#e8f5e4" opacity="0.10"/>
<use href="#c2" transform="translate(362.0 95.5) scale(0.912)"/>
<circle cx="362.0" cy="95.5" r="9.5" fill="#e8f5e4" opacity="0.10"/>
<use href="#c0" transform="translate(375.7 103.4) scale(0.912)"/>
<circle cx="375.7" cy="103.4" r="9.5" fill="#e8f5e4" opacity="0.10"/>
<use href="#c1" transform="translate(350.0 103.0) scale(0.912)"/>
<circle cx="350.0" cy="103.0" r="9.5" fill="#e8f5e4" opacity="0.10"/>
<use href="#c2" transform="translate(365.5 110.6) scale(0.912)"/>
<circle cx="365.5" cy="110.6" r="9.5" fill="#e8f5e4" opacity="0.05"/>
<use href="#c0" transform="translate(368.5 117.8) scale(0.864)"/>
<circle cx="368.5" cy="117.8" r="9.0" fill="#e8f5e4" opacity="0.05"/>
<use href="#c1" transform="translate(415.0 94.6) scale(0.912)"/>
<circle cx="415.0" cy="94.6" r="9.5" fill="#e8f5e4" opacity="0.05"/>
<use href="#c2" transform="translate(331.8 74.0) scale(0.960)"/>
<circle cx="331.8" cy="74.0" r="10.0" fill="#e8f5e4" opacity="0.05"/>
<use href="#c1" transform="translate(323.9 95.7) scale(0.912)"/>
<circle cx="323.9" cy="95.7" r="9.5" fill="#e8f5e4" opacity="0.05"/>
<use href="#c0" transform="translate(285.9 43.2) scale(1.008)"/>
<use href="#c1" transform="translate(315.4 28.4) scale(0.960)"/>
<use href="#c2" transform="translate(308.0 42.0) scale(0.960)"/>
<use href="#c0" transform="translate(332.6 30.9) scale(1.008)"/>
<use href="#c1" transform="translate(367.8 34.5) scale(1.008)"/>
<use href="#c2" transform="translate(357.5 48.2) scale(0.912)"/>
<use href="#c0" transform="translate(404.1 26.6) scale(0.960)"/>
<use href="#c1" transform="translate(295.5 88.0) scale(0.864)"/>
<use href="#c2" transform="translate(298.7 100.0) scale(0.912)"/>
<use href="#c0" transform="translate(324.3 100.3) scale(1.008)"/>
<use href="#c2" transform="translate(341.0 115.8) scale(0.960)"/>
<use href="#c1" transform="translate(356.5 126.0) scale(0.960)"/>
<use href="#c0" transform="translate(399.4 104.9) scale(1.008)"/>
<use href="#c2" transform="translate(402.0 123.0) scale(0.960)"/>
<use href="#c1" transform="translate(325.5 118.4) scale(1.056)"/>
<use href="#c0" transform="translate(328.0 130.0) scale(0.960)"/>
<use href="#c2" transform="translate(341.0 131.0) scale(0.960)"/>
<use href="#c1" transform="translate(396.5 66.0) scale(1.104)"/>
<use href="#c2" transform="translate(408.7 77.3) scale(1.056)"/>
<use href="#c0" transform="translate(416.8 84.3) scale(0.984)"/>
<use href="#c1" transform="translate(397.3 97.7) scale(1.056)"/>
<use href="#c2" transform="translate(425.3 109.0) scale(0.960)"/>
<use href="#c0" transform="translate(345.5 76.4) scale(1.152)"/>
<use href="#c1" transform="translate(362.5 142.6) scale(1.008)"/>
</g>
<path d="M336.6 152.6L336.9 141.0" stroke="#8ccf7c" stroke-width="0.9" fill="none"/>
<g fill="url(#bl)"><circle cx="339.5" cy="175.1" r="6.0"/><circle cx="315.5" cy="176.4" r="6.5"/><circle cx="294.6" cy="177.3" r="6.6"/><circle cx="332.6" cy="179.2" r="6.0"/><circle cx="333.8" cy="180.8" r="6.0"/><circle cx="320.2" cy="182.0" r="6.0"/><circle cx="300.3" cy="187.7" r="6.0"/><circle cx="336.4" cy="187.7" r="6.0"/><circle cx="308.9" cy="188.7" r="7.0"/><circle cx="342.5" cy="188.8" r="5.8"/><circle cx="292.7" cy="190.6" r="6.0"/><circle cx="336.4" cy="191.9" r="6.4"/><circle cx="300.7" cy="192.2" r="6.0"/><circle cx="324.7" cy="192.3" r="5.6"/><circle cx="340.7" cy="192.5" r="6.1"/><circle cx="306.2" cy="192.8" r="5.9"/><circle cx="330.9" cy="193.0" r="6.3"/><circle cx="346.3" cy="193.4" r="6.2"/><circle cx="293.4" cy="195.6" r="6.2"/><circle cx="297.2" cy="195.8" r="5.7"/><circle cx="303.6" cy="195.8" r="5.9"/><circle cx="329.1" cy="195.9" r="5.8"/><circle cx="332.4" cy="196.1" r="6.2"/><circle cx="338.2" cy="196.1" r="5.6"/><circle cx="322.8" cy="196.4" r="6.7"/><circle cx="342.8" cy="196.4" r="6.3"/><circle cx="326.9" cy="197.2" r="6.0"/><circle cx="339.5" cy="200.1" r="6.0"/><circle cx="330.2" cy="200.1" r="6.6"/><circle cx="304.5" cy="200.4" r="5.8"/><circle cx="324.7" cy="200.5" r="6.0"/><circle cx="296.2" cy="200.8" r="6.1"/><circle cx="336.7" cy="201.0" r="6.2"/><circle cx="299.5" cy="201.4" r="5.7"/><circle cx="291.5" cy="201.7" r="6.6"/><circle cx="344.9" cy="201.8" r="5.8"/><circle cx="283.1" cy="204.3" r="6.2"/><circle cx="342.3" cy="204.7" r="6.3"/><circle cx="337.7" cy="204.7" r="5.9"/><circle cx="302.6" cy="204.7" r="6.6"/><circle cx="321.9" cy="204.9" r="5.9"/><circle cx="318.0" cy="205.1" r="5.6"/><circle cx="292.4" cy="205.1" r="5.8"/><circle cx="298.7" cy="205.5" r="6.5"/><circle cx="289.0" cy="205.8" r="6.0"/><circle cx="313.8" cy="206.0" r="5.9"/><circle cx="309.2" cy="206.2" r="6.6"/><circle cx="289.1" cy="206.3" r="6.4"/><circle cx="328.5" cy="206.5" r="6.1"/><circle cx="334.0" cy="206.6" r="6.7"/><circle cx="329.6" cy="208.6" r="6.8"/><circle cx="281.4" cy="208.6" r="5.5"/><circle cx="286.2" cy="208.8" r="6.4"/><circle cx="311.0" cy="209.0" r="5.8"/><circle cx="295.4" cy="209.0" r="6.5"/><circle cx="344.8" cy="209.2" r="6.0"/><circle cx="325.9" cy="209.4" r="6.3"/><circle cx="305.3" cy="209.5" r="6.7"/><circle cx="335.9" cy="209.8" r="6.7"/><circle cx="291.5" cy="210.4" r="6.5"/><circle cx="300.1" cy="210.5" r="6.8"/><circle cx="319.7" cy="210.5" r="6.8"/><circle cx="340.3" cy="210.6" r="6.6"/><circle cx="314.7" cy="210.7" r="6.6"/><circle cx="308.7" cy="213.3" r="6.2"/><circle cx="302.9" cy="213.3" r="5.6"/><circle cx="283.0" cy="214.0" r="6.0"/><circle cx="348.1" cy="214.0" r="6.7"/><circle cx="298.1" cy="214.2" r="5.6"/><circle cx="318.0" cy="214.2" r="6.5"/><circle cx="313.5" cy="214.2" r="6.0"/><circle cx="322.1" cy="214.2" r="5.9"/><circle cx="287.9" cy="214.3" r="6.7"/><circle cx="337.9" cy="214.4" r="6.2"/><circle cx="343.0" cy="214.6" r="6.1"/><circle cx="333.1" cy="214.7" r="6.7"/><circle cx="327.5" cy="214.8" r="6.2"/><circle cx="282.1" cy="215.1" r="6.0"/><circle cx="292.8" cy="215.1" r="6.2"/><circle cx="299.9" cy="217.4" r="6.4"/><circle cx="286.6" cy="217.9" r="6.3"/><circle cx="334.8" cy="218.0" r="6.5"/><circle cx="344.3" cy="218.0" r="6.3"/><circle cx="321.6" cy="218.2" r="6.2"/><circle cx="294.6" cy="218.3" r="5.7"/><circle cx="330.3" cy="218.5" r="6.0"/><circle cx="339.3" cy="218.6" r="6.1"/><circle cx="311.0" cy="218.8" r="5.8"/><circle cx="326.7" cy="219.2" r="5.8"/><circle cx="291.6" cy="219.3" r="5.8"/><circle cx="306.2" cy="219.4" r="5.8"/><circle cx="316.4" cy="219.6" r="5.9"/><circle cx="342.2" cy="221.7" r="5.8"/><circle cx="307.0" cy="221.7" r="6.4"/><circle cx="323.9" cy="221.8" r="6.6"/><circle cx="312.8" cy="221.8" r="6.7"/><circle cx="284.1" cy="221.9" r="5.9"/><circle cx="338.1" cy="222.2" r="5.7"/><circle cx="298.8" cy="222.2" r="5.8"/><circle cx="334.0" cy="222.2" r="5.8"/><circle cx="347.5" cy="222.3" r="6.5"/><circle cx="327.9" cy="222.4" r="6.3"/><circle cx="292.1" cy="222.6" r="6.7"/><circle cx="287.9" cy="222.9" r="6.0"/><circle cx="304.0" cy="223.0" r="6.4"/><circle cx="286.9" cy="223.5" r="5.9"/><circle cx="318.3" cy="223.5" r="5.7"/><circle cx="329.6" cy="226.1" r="6.5"/><circle cx="334.9" cy="226.3" r="5.7"/><circle cx="345.0" cy="226.5" r="6.0"/><circle cx="289.3" cy="226.6" r="5.6"/><circle cx="325.3" cy="226.8" r="5.7"/><circle cx="311.3" cy="226.9" r="6.2"/><circle cx="306.3" cy="227.0" r="6.2"/><circle cx="296.1" cy="227.3" r="5.8"/><circle cx="339.3" cy="227.3" r="6.0"/><circle cx="321.3" cy="227.6" r="6.4"/><circle cx="341.3" cy="228.0" r="6.4"/><circle cx="300.4" cy="228.2" r="5.7"/><circle cx="316.0" cy="228.3" r="6.0"/><circle cx="286.8" cy="229.6" r="6.0"/><circle cx="311.9" cy="230.4" r="6.0"/><circle cx="338.3" cy="230.4" r="6.6"/><circle cx="307.4" cy="230.5" r="6.1"/><circle cx="348.7" cy="230.6" r="6.2"/><circle cx="334.2" cy="230.7" r="6.5"/><circle cx="288.1" cy="230.9" r="6.8"/><circle cx="292.5" cy="231.2" r="5.6"/><circle cx="328.9" cy="231.2" r="6.0"/><circle cx="297.7" cy="231.4" r="6.2"/><circle cx="302.3" cy="231.5" r="5.6"/><circle cx="317.4" cy="231.7" r="6.2"/><circle cx="343.9" cy="231.8" r="6.5"/><circle cx="323.6" cy="231.9" r="6.5"/><circle cx="334.8" cy="234.0" r="6.0"/><circle cx="337.6" cy="234.0" r="6.0"/><circle cx="299.9" cy="234.7" r="5.8"/><circle cx="305.2" cy="234.9" r="6.6"/><circle cx="331.1" cy="235.3" r="5.7"/><circle cx="315.9" cy="235.8" r="5.6"/><circle cx="310.6" cy="236.2" r="6.4"/><circle cx="325.6" cy="236.2" r="5.7"/><circle cx="308.0" cy="236.3" r="6.0"/><circle cx="325.9" cy="236.3" r="6.0"/><circle cx="334.9" cy="236.4" r="5.8"/><circle cx="321.2" cy="236.4" r="6.2"/><circle cx="297.9" cy="238.5" r="6.0"/><circle cx="332.8" cy="238.8" r="6.0"/><circle cx="334.0" cy="239.0" r="6.2"/><circle cx="313.4" cy="239.7" r="6.2"/><circle cx="343.7" cy="240.8" r="6.0"/><circle cx="345.1" cy="242.6" r="6.0"/><circle cx="318.0" cy="246.3" r="6.0"/><circle cx="315.8" cy="255.3" r="6.3"/></g>
<g fill="url(#blc)"><circle cx="342.5" cy="188.8" r="5.8"/><circle cx="336.4" cy="191.9" r="6.4"/><circle cx="300.7" cy="192.2" r="6.0"/><circle cx="324.7" cy="192.3" r="5.6"/><circle cx="340.7" cy="192.5" r="6.1"/><circle cx="306.2" cy="192.8" r="5.9"/><circle cx="330.9" cy="193.0" r="6.3"/><circle cx="346.3" cy="193.4" r="6.2"/><circle cx="293.4" cy="195.6" r="6.2"/><circle cx="297.2" cy="195.8" r="5.7"/><circle cx="303.6" cy="195.8" r="5.9"/><circle cx="329.1" cy="195.9" r="5.8"/><circle cx="332.4" cy="196.1" r="6.2"/><circle cx="338.2" cy="196.1" r="5.6"/><circle cx="322.8" cy="196.4" r="6.7"/><circle cx="342.8" cy="196.4" r="6.3"/><circle cx="339.5" cy="200.1" r="6.0"/><circle cx="330.2" cy="200.1" r="6.6"/><circle cx="304.5" cy="200.4" r="5.8"/><circle cx="324.7" cy="200.5" r="6.0"/><circle cx="296.2" cy="200.8" r="6.1"/><circle cx="336.7" cy="201.0" r="6.2"/><circle cx="299.5" cy="201.4" r="5.7"/><circle cx="291.5" cy="201.7" r="6.6"/><circle cx="344.9" cy="201.8" r="5.8"/><circle cx="283.1" cy="204.3" r="6.2"/><circle cx="342.3" cy="204.7" r="6.3"/><circle cx="337.7" cy="204.7" r="5.9"/><circle cx="302.6" cy="204.7" r="6.6"/><circle cx="321.9" cy="204.9" r="5.9"/><circle cx="318.0" cy="205.1" r="5.6"/><circle cx="292.4" cy="205.1" r="5.8"/><circle cx="298.7" cy="205.5" r="6.5"/><circle cx="313.8" cy="206.0" r="5.9"/><circle cx="309.2" cy="206.2" r="6.6"/><circle cx="289.1" cy="206.3" r="6.4"/><circle cx="328.5" cy="206.5" r="6.1"/><circle cx="334.0" cy="206.6" r="6.7"/><circle cx="329.6" cy="208.6" r="6.8"/><circle cx="286.2" cy="208.8" r="6.4"/><circle cx="311.0" cy="209.0" r="5.8"/><circle cx="295.4" cy="209.0" r="6.5"/><circle cx="344.8" cy="209.2" r="6.0"/><circle cx="325.9" cy="209.4" r="6.3"/><circle cx="305.3" cy="209.5" r="6.7"/><circle cx="335.9" cy="209.8" r="6.7"/><circle cx="291.5" cy="210.4" r="6.5"/><circle cx="300.1" cy="210.5" r="6.8"/><circle cx="319.7" cy="210.5" r="6.8"/><circle cx="340.3" cy="210.6" r="6.6"/><circle cx="314.7" cy="210.7" r="6.6"/><circle cx="308.7" cy="213.3" r="6.2"/><circle cx="302.9" cy="213.3" r="5.6"/><circle cx="348.1" cy="214.0" r="6.7"/><circle cx="298.1" cy="214.2" r="5.6"/><circle cx="318.0" cy="214.2" r="6.5"/><circle cx="313.5" cy="214.2" r="6.0"/><circle cx="322.1" cy="214.2" r="5.9"/><circle cx="287.9" cy="214.3" r="6.7"/><circle cx="337.9" cy="214.4" r="6.2"/><circle cx="343.0" cy="214.6" r="6.1"/><circle cx="333.1" cy="214.7" r="6.7"/><circle cx="327.5" cy="214.8" r="6.2"/><circle cx="282.1" cy="215.1" r="6.0"/><circle cx="292.8" cy="215.1" r="6.2"/><circle cx="299.9" cy="217.4" r="6.4"/><circle cx="286.6" cy="217.9" r="6.3"/><circle cx="334.8" cy="218.0" r="6.5"/><circle cx="344.3" cy="218.0" r="6.3"/><circle cx="321.6" cy="218.2" r="6.2"/><circle cx="294.6" cy="218.3" r="5.7"/><circle cx="330.3" cy="218.5" r="6.0"/><circle cx="339.3" cy="218.6" r="6.1"/><circle cx="311.0" cy="218.8" r="5.8"/><circle cx="326.7" cy="219.2" r="5.8"/><circle cx="291.6" cy="219.3" r="5.8"/><circle cx="306.2" cy="219.4" r="5.8"/><circle cx="316.4" cy="219.6" r="5.9"/><circle cx="342.2" cy="221.7" r="5.8"/><circle cx="307.0" cy="221.7" r="6.4"/><circle cx="323.9" cy="221.8" r="6.6"/><circle cx="312.8" cy="221.8" r="6.7"/><circle cx="284.1" cy="221.9" r="5.9"/><circle cx="338.1" cy="222.2" r="5.7"/><circle cx="298.8" cy="222.2" r="5.8"/><circle cx="334.0" cy="222.2" r="5.8"/><circle cx="347.5" cy="222.3" r="6.5"/><circle cx="327.9" cy="222.4" r="6.3"/><circle cx="292.1" cy="222.6" r="6.7"/><circle cx="304.0" cy="223.0" r="6.4"/><circle cx="286.9" cy="223.5" r="5.9"/><circle cx="318.3" cy="223.5" r="5.7"/><circle cx="329.6" cy="226.1" r="6.5"/><circle cx="334.9" cy="226.3" r="5.7"/><circle cx="345.0" cy="226.5" r="6.0"/><circle cx="289.3" cy="226.6" r="5.6"/><circle cx="325.3" cy="226.8" r="5.7"/><circle cx="311.3" cy="226.9" r="6.2"/><circle cx="306.3" cy="227.0" r="6.2"/><circle cx="296.1" cy="227.3" r="5.8"/><circle cx="321.3" cy="227.6" r="6.4"/><circle cx="341.3" cy="228.0" r="6.4"/><circle cx="300.4" cy="228.2" r="5.7"/><circle cx="316.0" cy="228.3" r="6.0"/><circle cx="311.9" cy="230.4" r="6.0"/><circle cx="338.3" cy="230.4" r="6.6"/><circle cx="307.4" cy="230.5" r="6.1"/><circle cx="348.7" cy="230.6" r="6.2"/><circle cx="334.2" cy="230.7" r="6.5"/><circle cx="288.1" cy="230.9" r="6.8"/><circle cx="292.5" cy="231.2" r="5.6"/><circle cx="328.9" cy="231.2" r="6.0"/><circle cx="297.7" cy="231.4" r="6.2"/><circle cx="302.3" cy="231.5" r="5.6"/><circle cx="317.4" cy="231.7" r="6.2"/><circle cx="343.9" cy="231.8" r="6.5"/><circle cx="323.6" cy="231.9" r="6.5"/><circle cx="299.9" cy="234.7" r="5.8"/><circle cx="305.2" cy="234.9" r="6.6"/><circle cx="331.1" cy="235.3" r="5.7"/><circle cx="315.9" cy="235.8" r="5.6"/><circle cx="310.6" cy="236.2" r="6.4"/><circle cx="325.6" cy="236.2" r="5.7"/><circle cx="334.9" cy="236.4" r="5.8"/><circle cx="321.2" cy="236.4" r="6.2"/><circle cx="334.0" cy="239.0" r="6.2"/><circle cx="313.4" cy="239.7" r="6.2"/></g>
<g fill="url(#bl)"><circle cx="433.9" cy="162.6" r="5.8"/><circle cx="427.3" cy="163.5" r="6.0"/><circle cx="401.8" cy="164.5" r="6.0"/><circle cx="385.7" cy="165.4" r="5.5"/><circle cx="421.6" cy="166.4" r="6.0"/><circle cx="431.1" cy="171.1" r="6.0"/><circle cx="424.5" cy="173.0" r="6.0"/><circle cx="407.4" cy="174.9" r="6.0"/><circle cx="398.0" cy="174.9" r="6.0"/><circle cx="417.8" cy="179.6" r="6.0"/><circle cx="415.9" cy="187.2" r="6.0"/><circle cx="425.5" cy="187.3" r="6.8"/><circle cx="433.0" cy="190.0" r="6.0"/><circle cx="444.4" cy="190.4" r="5.9"/><circle cx="432.4" cy="190.5" r="6.8"/><circle cx="428.6" cy="190.8" r="6.0"/><circle cx="424.1" cy="190.8" r="6.1"/><circle cx="437.6" cy="191.1" r="6.4"/><circle cx="417.9" cy="191.2" r="6.7"/><circle cx="423.5" cy="192.8" r="6.0"/><circle cx="436.1" cy="194.3" r="6.5"/><circle cx="420.1" cy="194.6" r="6.2"/><circle cx="405.9" cy="195.6" r="5.6"/><circle cx="440.5" cy="195.7" r="6.0"/><circle cx="399.9" cy="195.9" r="6.7"/><circle cx="431.4" cy="196.0" r="6.1"/><circle cx="396.8" cy="196.3" r="5.6"/><circle cx="440.4" cy="196.4" r="6.4"/><circle cx="410.7" cy="196.4" r="6.6"/><circle cx="426.4" cy="196.5" r="6.5"/><circle cx="416.9" cy="196.5" r="5.9"/><circle cx="437.8" cy="198.6" r="6.0"/><circle cx="394.0" cy="198.8" r="5.7"/><circle cx="417.9" cy="199.1" r="6.8"/><circle cx="424.0" cy="199.3" r="5.6"/><circle cx="408.0" cy="199.7" r="6.8"/><circle cx="398.6" cy="199.9" r="6.1"/><circle cx="402.8" cy="200.0" r="5.6"/><circle cx="432.9" cy="200.2" r="6.7"/><circle cx="428.5" cy="200.2" r="6.1"/><circle cx="443.3" cy="200.2" r="5.8"/><circle cx="413.8" cy="200.7" r="6.2"/><circle cx="424.9" cy="203.0" r="6.1"/><circle cx="417.1" cy="203.3" r="6.1"/><circle cx="391.0" cy="203.4" r="6.8"/><circle cx="410.3" cy="203.9" r="6.4"/><circle cx="407.1" cy="204.1" r="5.8"/><circle cx="444.9" cy="204.5" r="6.1"/><circle cx="400.3" cy="204.7" r="6.0"/><circle cx="395.5" cy="204.9" r="5.9"/><circle cx="432.0" cy="205.0" r="6.5"/><circle cx="437.2" cy="205.1" r="6.0"/><circle cx="440.2" cy="205.1" r="6.5"/><circle cx="420.3" cy="205.2" r="5.8"/><circle cx="438.4" cy="205.4" r="6.0"/><circle cx="392.7" cy="207.3" r="5.9"/><circle cx="424.5" cy="207.3" r="6.1"/><circle cx="432.4" cy="207.4" r="6.7"/><circle cx="419.5" cy="207.7" r="6.0"/><circle cx="404.6" cy="207.7" r="6.0"/><circle cx="443.1" cy="207.9" r="6.7"/><circle cx="412.4" cy="208.4" r="6.0"/><circle cx="437.9" cy="209.0" r="6.7"/><circle cx="429.2" cy="209.1" r="5.6"/><circle cx="409.3" cy="209.2" r="6.1"/><circle cx="398.1" cy="209.5" r="5.7"/><circle cx="436.7" cy="211.8" r="5.8"/><circle cx="441.6" cy="212.2" r="5.7"/><circle cx="391.5" cy="212.4" r="5.9"/><circle cx="430.6" cy="212.4" r="6.0"/><circle cx="412.1" cy="212.5" r="5.9"/><circle cx="430.0" cy="212.7" r="6.0"/><circle cx="405.4" cy="212.7" r="6.7"/><circle cx="415.8" cy="212.8" r="6.7"/><circle cx="444.9" cy="212.9" r="6.0"/><circle cx="394.8" cy="213.4" r="6.7"/><circle cx="426.8" cy="213.5" r="6.3"/><circle cx="420.2" cy="213.5" r="6.5"/><circle cx="401.3" cy="213.9" r="5.6"/><circle cx="396.2" cy="215.1" r="6.0"/><circle cx="392.5" cy="215.9" r="6.0"/><circle cx="411.3" cy="215.9" r="6.0"/><circle cx="403.4" cy="216.5" r="6.1"/><circle cx="427.9" cy="216.5" r="5.8"/><circle cx="394.7" cy="216.6" r="5.7"/><circle cx="419.3" cy="216.7" r="6.3"/><circle cx="397.5" cy="217.1" r="6.5"/><circle cx="434.4" cy="217.3" r="6.0"/><circle cx="414.3" cy="217.5" r="5.7"/><circle cx="408.8" cy="217.6" r="6.5"/><circle cx="423.2" cy="217.7" r="5.8"/><circle cx="421.7" cy="218.0" r="6.0"/><circle cx="405.5" cy="220.6" r="5.8"/><circle cx="430.3" cy="221.2" r="5.8"/><circle cx="412.1" cy="221.7" r="6.7"/><circle cx="425.1" cy="221.7" r="6.3"/><circle cx="432.1" cy="222.1" r="6.0"/><circle cx="420.4" cy="222.2" r="6.7"/><circle cx="415.7" cy="222.4" r="6.1"/><circle cx="401.8" cy="222.5" r="5.6"/><circle cx="403.6" cy="224.8" r="5.7"/><circle cx="403.0" cy="226.3" r="6.0"/><circle cx="411.3" cy="233.6" r="5.9"/></g>
<g fill="url(#blc)"><circle cx="425.5" cy="187.3" r="6.8"/><circle cx="444.4" cy="190.4" r="5.9"/><circle cx="432.4" cy="190.5" r="6.8"/><circle cx="428.6" cy="190.8" r="6.0"/><circle cx="424.1" cy="190.8" r="6.1"/><circle cx="437.6" cy="191.1" r="6.4"/><circle cx="417.9" cy="191.2" r="6.7"/><circle cx="436.1" cy="194.3" r="6.5"/><circle cx="420.1" cy="194.6" r="6.2"/><circle cx="405.9" cy="195.6" r="5.6"/><circle cx="399.9" cy="195.9" r="6.7"/><circle cx="431.4" cy="196.0" r="6.1"/><circle cx="396.8" cy="196.3" r="5.6"/><circle cx="440.4" cy="196.4" r="6.4"/><circle cx="410.7" cy="196.4" r="6.6"/><circle cx="426.4" cy="196.5" r="6.5"/><circle cx="416.9" cy="196.5" r="5.9"/><circle cx="437.8" cy="198.6" r="6.0"/><circle cx="394.0" cy="198.8" r="5.7"/><circle cx="417.9" cy="199.1" r="6.8"/><circle cx="424.0" cy="199.3" r="5.6"/><circle cx="408.0" cy="199.7" r="6.8"/><circle cx="398.6" cy="199.9" r="6.1"/><circle cx="402.8" cy="200.0" r="5.6"/><circle cx="432.9" cy="200.2" r="6.7"/><circle cx="428.5" cy="200.2" r="6.1"/><circle cx="443.3" cy="200.2" r="5.8"/><circle cx="413.8" cy="200.7" r="6.2"/><circle cx="424.9" cy="203.0" r="6.1"/><circle cx="417.1" cy="203.3" r="6.1"/><circle cx="391.0" cy="203.4" r="6.8"/><circle cx="410.3" cy="203.9" r="6.4"/><circle cx="407.1" cy="204.1" r="5.8"/><circle cx="444.9" cy="204.5" r="6.1"/><circle cx="400.3" cy="204.7" r="6.0"/><circle cx="395.5" cy="204.9" r="5.9"/><circle cx="432.0" cy="205.0" r="6.5"/><circle cx="437.2" cy="205.1" r="6.0"/><circle cx="440.2" cy="205.1" r="6.5"/><circle cx="420.3" cy="205.2" r="5.8"/><circle cx="392.7" cy="207.3" r="5.9"/><circle cx="424.5" cy="207.3" r="6.1"/><circle cx="432.4" cy="207.4" r="6.7"/><circle cx="419.5" cy="207.7" r="6.0"/><circle cx="404.6" cy="207.7" r="6.0"/><circle cx="443.1" cy="207.9" r="6.7"/><circle cx="412.4" cy="208.4" r="6.0"/><circle cx="437.9" cy="209.0" r="6.7"/><circle cx="429.2" cy="209.1" r="5.6"/><circle cx="409.3" cy="209.2" r="6.1"/><circle cx="398.1" cy="209.5" r="5.7"/><circle cx="436.7" cy="211.8" r="5.8"/><circle cx="441.6" cy="212.2" r="5.7"/><circle cx="391.5" cy="212.4" r="5.9"/><circle cx="430.6" cy="212.4" r="6.0"/><circle cx="412.1" cy="212.5" r="5.9"/><circle cx="405.4" cy="212.7" r="6.7"/><circle cx="415.8" cy="212.8" r="6.7"/><circle cx="444.9" cy="212.9" r="6.0"/><circle cx="394.8" cy="213.4" r="6.7"/><circle cx="426.8" cy="213.5" r="6.3"/><circle cx="420.2" cy="213.5" r="6.5"/><circle cx="401.3" cy="213.9" r="5.6"/><circle cx="403.4" cy="216.5" r="6.1"/><circle cx="427.9" cy="216.5" r="5.8"/><circle cx="394.7" cy="216.6" r="5.7"/><circle cx="419.3" cy="216.7" r="6.3"/><circle cx="397.5" cy="217.1" r="6.5"/><circle cx="434.4" cy="217.3" r="6.0"/><circle cx="414.3" cy="217.5" r="5.7"/><circle cx="408.8" cy="217.6" r="6.5"/><circle cx="423.2" cy="217.7" r="5.8"/><circle cx="405.5" cy="220.6" r="5.8"/><circle cx="430.3" cy="221.2" r="5.8"/><circle cx="412.1" cy="221.7" r="6.7"/><circle cx="425.1" cy="221.7" r="6.3"/><circle cx="420.4" cy="222.2" r="6.7"/><circle cx="415.7" cy="222.4" r="6.1"/><circle cx="401.8" cy="222.5" r="5.6"/><circle cx="403.6" cy="224.8" r="5.7"/></g>
<g opacity="0.88"><g fill="url(#gr)"><circle cx="395.3" cy="166.6" r="5.5"/><circle cx="386.8" cy="169.5" r="6.0"/><circle cx="342.3" cy="170.4" r="5.7"/><circle cx="361.2" cy="170.4" r="5.9"/><circle cx="379.2" cy="171.4" r="6.0"/><circle cx="383.0" cy="178.0" r="6.0"/><circle cx="392.4" cy="178.0" r="6.0"/><circle cx="361.5" cy="178.1" r="6.7"/><circle cx="385.3" cy="178.4" r="6.1"/><circle cx="352.7" cy="178.9" r="6.0"/><circle cx="362.2" cy="180.8" r="6.0"/><circle cx="387.8" cy="181.7" r="6.1"/><circle cx="382.9" cy="181.8" r="5.8"/><circle cx="378.7" cy="182.6" r="5.8"/><circle cx="353.2" cy="182.8" r="6.4"/><circle cx="376.5" cy="186.0" r="6.0"/><circle cx="381.1" cy="186.2" r="6.7"/><circle cx="371.5" cy="186.2" r="6.5"/><circle cx="350.5" cy="186.8" r="6.7"/><circle cx="385.0" cy="187.8" r="5.8"/><circle cx="390.5" cy="188.1" r="5.8"/><circle cx="368.9" cy="190.5" r="6.8"/><circle cx="373.3" cy="191.1" r="6.6"/><circle cx="349.0" cy="191.8" r="6.7"/><circle cx="387.2" cy="192.0" r="5.7"/><circle cx="382.7" cy="192.0" r="6.1"/><circle cx="352.2" cy="192.1" r="5.7"/><circle cx="377.4" cy="192.6" r="6.3"/><circle cx="349.4" cy="194.9" r="6.3"/><circle cx="386.5" cy="195.1" r="5.8"/><circle cx="369.6" cy="195.4" r="5.9"/><circle cx="380.8" cy="195.7" r="5.8"/><circle cx="355.3" cy="195.8" r="6.7"/><circle cx="375.7" cy="196.0" r="5.8"/><circle cx="389.5" cy="196.1" r="6.6"/><circle cx="368.7" cy="198.9" r="6.3"/><circle cx="359.0" cy="199.0" r="6.2"/><circle cx="387.5" cy="199.0" r="6.7"/><circle cx="374.1" cy="199.2" r="5.8"/><circle cx="383.8" cy="199.3" r="6.0"/><circle cx="362.8" cy="199.5" r="5.7"/><circle cx="378.3" cy="200.1" r="6.4"/><circle cx="347.6" cy="200.4" r="6.1"/><circle cx="393.7" cy="200.6" r="5.6"/><circle cx="354.0" cy="200.7" r="5.9"/><circle cx="376.6" cy="203.8" r="6.7"/><circle cx="349.6" cy="203.8" r="5.6"/><circle cx="379.3" cy="203.9" r="5.9"/><circle cx="370.6" cy="203.9" r="6.4"/><circle cx="365.6" cy="204.3" r="6.5"/><circle cx="361.3" cy="205.0" r="5.9"/><circle cx="355.1" cy="205.0" r="6.4"/><circle cx="390.1" cy="205.4" r="6.0"/><circle cx="386.1" cy="205.5" r="6.5"/><circle cx="367.1" cy="207.7" r="5.7"/><circle cx="376.9" cy="207.7" r="6.4"/><circle cx="363.3" cy="207.8" r="6.7"/><circle cx="358.2" cy="208.3" r="5.9"/><circle cx="374.0" cy="208.4" r="5.8"/><circle cx="353.9" cy="208.6" r="6.5"/><circle cx="387.0" cy="209.0" r="6.0"/><circle cx="383.3" cy="209.3" r="6.5"/><circle cx="393.8" cy="209.6" r="6.7"/><circle cx="347.9" cy="209.6" r="6.4"/><circle cx="349.6" cy="212.0" r="6.6"/><circle cx="374.9" cy="212.6" r="6.5"/><circle cx="360.8" cy="212.6" r="5.7"/><circle cx="380.2" cy="212.7" r="6.8"/><circle cx="389.4" cy="212.9" r="6.1"/><circle cx="370.1" cy="213.0" r="5.6"/><circle cx="356.2" cy="213.5" r="6.6"/><circle cx="364.5" cy="213.8" r="5.8"/><circle cx="385.5" cy="214.0" r="6.3"/><circle cx="359.1" cy="216.3" r="6.2"/><circle cx="351.8" cy="216.8" r="6.5"/><circle cx="368.0" cy="217.1" r="6.6"/><circle cx="393.3" cy="217.2" r="6.1"/><circle cx="382.1" cy="217.8" r="5.7"/><circle cx="388.7" cy="218.0" r="6.5"/><circle cx="377.3" cy="218.0" r="6.2"/><circle cx="363.0" cy="218.2" r="5.8"/><circle cx="347.0" cy="218.3" r="5.8"/><circle cx="372.4" cy="218.6" r="5.9"/><circle cx="370.1" cy="221.0" r="6.6"/><circle cx="389.9" cy="221.1" r="6.0"/><circle cx="384.6" cy="221.8" r="6.7"/><circle cx="360.4" cy="221.9" r="6.5"/><circle cx="366.1" cy="222.2" r="6.0"/><circle cx="375.9" cy="222.4" r="5.8"/><circle cx="380.4" cy="222.5" r="6.3"/><circle cx="355.2" cy="222.8" r="5.9"/><circle cx="349.9" cy="222.8" r="6.2"/><circle cx="384.2" cy="224.2" r="6.0"/><circle cx="381.0" cy="224.6" r="6.0"/><circle cx="344.2" cy="224.6" r="6.0"/><circle cx="377.7" cy="225.1" r="6.1"/><circle cx="373.3" cy="225.3" r="5.8"/><circle cx="348.1" cy="225.4" r="6.0"/><circle cx="368.6" cy="226.0" r="5.8"/><circle cx="388.3" cy="226.1" r="5.8"/><circle cx="383.7" cy="226.7" r="6.2"/><circle cx="357.0" cy="227.3" r="5.7"/><circle cx="352.3" cy="227.3" r="6.5"/><circle cx="362.7" cy="227.4" r="6.6"/><circle cx="365.4" cy="230.1" r="6.4"/><circle cx="369.5" cy="230.4" r="6.5"/><circle cx="380.3" cy="230.4" r="6.3"/><circle cx="376.0" cy="230.9" r="5.9"/><circle cx="361.3" cy="231.0" r="6.4"/><circle cx="392.4" cy="231.2" r="6.0"/><circle cx="356.4" cy="231.2" r="6.4"/><circle cx="371.6" cy="232.2" r="6.0"/><circle cx="390.4" cy="232.5" r="6.0"/><circle cx="360.3" cy="233.1" r="6.0"/><circle cx="358.0" cy="233.9" r="6.3"/><circle cx="365.0" cy="242.6" r="5.9"/></g><g fill="url(#grc)"><circle cx="361.5" cy="178.1" r="6.7"/><circle cx="385.3" cy="178.4" r="6.1"/><circle cx="387.8" cy="181.7" r="6.1"/><circle cx="382.9" cy="181.8" r="5.8"/><circle cx="378.7" cy="182.6" r="5.8"/><circle cx="353.2" cy="182.8" r="6.4"/><circle cx="376.5" cy="186.0" r="6.0"/><circle cx="381.1" cy="186.2" r="6.7"/><circle cx="371.5" cy="186.2" r="6.5"/><circle cx="350.5" cy="186.8" r="6.7"/><circle cx="385.0" cy="187.8" r="5.8"/><circle cx="390.5" cy="188.1" r="5.8"/><circle cx="368.9" cy="190.5" r="6.8"/><circle cx="373.3" cy="191.1" r="6.6"/><circle cx="349.0" cy="191.8" r="6.7"/><circle cx="387.2" cy="192.0" r="5.7"/><circle cx="382.7" cy="192.0" r="6.1"/><circle cx="352.2" cy="192.1" r="5.7"/><circle cx="377.4" cy="192.6" r="6.3"/><circle cx="349.4" cy="194.9" r="6.3"/><circle cx="386.5" cy="195.1" r="5.8"/><circle cx="369.6" cy="195.4" r="5.9"/><circle cx="380.8" cy="195.7" r="5.8"/><circle cx="355.3" cy="195.8" r="6.7"/><circle cx="375.7" cy="196.0" r="5.8"/><circle cx="389.5" cy="196.1" r="6.6"/><circle cx="368.7" cy="198.9" r="6.3"/><circle cx="359.0" cy="199.0" r="6.2"/><circle cx="387.5" cy="199.0" r="6.7"/><circle cx="374.1" cy="199.2" r="5.8"/><circle cx="383.8" cy="199.3" r="6.0"/><circle cx="362.8" cy="199.5" r="5.7"/><circle cx="378.3" cy="200.1" r="6.4"/><circle cx="347.6" cy="200.4" r="6.1"/><circle cx="393.7" cy="200.6" r="5.6"/><circle cx="354.0" cy="200.7" r="5.9"/><circle cx="376.6" cy="203.8" r="6.7"/><circle cx="349.6" cy="203.8" r="5.6"/><circle cx="379.3" cy="203.9" r="5.9"/><circle cx="370.6" cy="203.9" r="6.4"/><circle cx="365.6" cy="204.3" r="6.5"/><circle cx="361.3" cy="205.0" r="5.9"/><circle cx="355.1" cy="205.0" r="6.4"/><circle cx="390.1" cy="205.4" r="6.0"/><circle cx="386.1" cy="205.5" r="6.5"/><circle cx="367.1" cy="207.7" r="5.7"/><circle cx="376.9" cy="207.7" r="6.4"/><circle cx="363.3" cy="207.8" r="6.7"/><circle cx="358.2" cy="208.3" r="5.9"/><circle cx="374.0" cy="208.4" r="5.8"/><circle cx="353.9" cy="208.6" r="6.5"/><circle cx="387.0" cy="209.0" r="6.0"/><circle cx="383.3" cy="209.3" r="6.5"/><circle cx="393.8" cy="209.6" r="6.7"/><circle cx="347.9" cy="209.6" r="6.4"/><circle cx="349.6" cy="212.0" r="6.6"/><circle cx="374.9" cy="212.6" r="6.5"/><circle cx="360.8" cy="212.6" r="5.7"/><circle cx="380.2" cy="212.7" r="6.8"/><circle cx="389.4" cy="212.9" r="6.1"/><circle cx="370.1" cy="213.0" r="5.6"/><circle cx="356.2" cy="213.5" r="6.6"/><circle cx="364.5" cy="213.8" r="5.8"/><circle cx="385.5" cy="214.0" r="6.3"/><circle cx="359.1" cy="216.3" r="6.2"/><circle cx="351.8" cy="216.8" r="6.5"/><circle cx="368.0" cy="217.1" r="6.6"/><circle cx="393.3" cy="217.2" r="6.1"/><circle cx="382.1" cy="217.8" r="5.7"/><circle cx="388.7" cy="218.0" r="6.5"/><circle cx="377.3" cy="218.0" r="6.2"/><circle cx="363.0" cy="218.2" r="5.8"/><circle cx="347.0" cy="218.3" r="5.8"/><circle cx="372.4" cy="218.6" r="5.9"/><circle cx="370.1" cy="221.0" r="6.6"/><circle cx="389.9" cy="221.1" r="6.0"/><circle cx="384.6" cy="221.8" r="6.7"/><circle cx="360.4" cy="221.9" r="6.5"/><circle cx="366.1" cy="222.2" r="6.0"/><circle cx="375.9" cy="222.4" r="5.8"/><circle cx="380.4" cy="222.5" r="6.3"/><circle cx="355.2" cy="222.8" r="5.9"/><circle cx="349.9" cy="222.8" r="6.2"/><circle cx="377.7" cy="225.1" r="6.1"/><circle cx="373.3" cy="225.3" r="5.8"/><circle cx="348.1" cy="225.4" r="6.0"/><circle cx="368.6" cy="226.0" r="5.8"/><circle cx="388.3" cy="226.1" r="5.8"/><circle cx="383.7" cy="226.7" r="6.2"/><circle cx="357.0" cy="227.3" r="5.7"/><circle cx="352.3" cy="227.3" r="6.5"/><circle cx="362.7" cy="227.4" r="6.6"/><circle cx="365.4" cy="230.1" r="6.4"/><circle cx="369.5" cy="230.4" r="6.5"/><circle cx="380.3" cy="230.4" r="6.3"/><circle cx="376.0" cy="230.9" r="5.9"/><circle cx="361.3" cy="231.0" r="6.4"/><circle cx="356.4" cy="231.2" r="6.4"/><circle cx="358.0" cy="233.9" r="6.3"/></g></g>
<ellipse cx="368" cy="208" rx="24" ry="22" fill="url(#yl)"/>
<path d="M333.8 177L353 192.5V241L334 222ZM353 192.5L389 183V234L353 241M333.8 177L371 170L389 183" stroke="#7cc46a" stroke-width="0.6" fill="none" opacity="0.55"/>
<path d="M292.0 208.0L298.4 210.3L292.7 214.1L295.8 220.1L302.2 222.4L296.6 226.2L302.9 228.5L309.3 230.8L303.7 234.5L300.6 228.5L294.2 226.2L291.2 220.1L297.6 222.4L303.2 218.7L296.8 216.4L302.5 212.6M318.0 212.0L324.4 214.3L330.8 216.6L327.7 210.6L324.7 204.5L319.0 208.3L312.6 205.9L306.2 203.6L309.3 209.7L302.9 207.4L306.0 213.4L300.3 217.2L294.7 220.9L297.7 227.0L303.4 223.2L297.0 220.9M306.0 226.0L309.1 232.1L314.7 228.3L320.3 224.6L314.0 222.3L310.9 216.2L304.5 213.9L310.1 210.2L303.8 207.8L297.4 205.5L291.0 203.2L296.6 199.5L303.0 201.8L306.1 207.8L309.1 213.9L314.8 210.2M336.0 204.0L332.9 197.9L339.3 200.3L345.0 196.5L338.6 194.2L344.2 190.5M328.0 228.0L334.4 230.3L340.0 226.6L346.4 228.9L340.8 232.6L337.7 226.6L343.4 222.8L340.3 216.8L334.7 220.5L331.6 214.5L326.0 218.2L329.0 224.3L335.4 226.6L332.4 220.5L326.7 224.3L321.1 228.0M300.0 218.0L303.1 224.1L308.7 220.3L314.3 216.6L320.7 218.9L323.8 224.9L326.9 231.0L320.5 228.7L326.1 224.9L329.2 231.0L322.8 228.7L317.1 232.4L310.7 230.1L316.4 226.4L322.0 222.6L328.4 224.9M340.0 220.0L345.6 216.3L339.3 213.9L336.2 207.9L330.5 211.6L333.6 217.7L336.7 223.7L330.3 221.4L324.6 225.2L319.0 228.9L312.6 226.6L307.0 230.3L300.6 228.0L306.2 224.3L311.8 220.5L318.2 222.9" stroke="#6a2547" stroke-width="0.6" fill="none" stroke-linejoin="round" stroke-opacity="0.85"/>
<path d="M402.0 200.0L395.6 197.7L398.7 203.7L405.1 206.1L399.4 209.8L402.5 215.8L408.9 218.2L415.3 220.5L412.2 214.4L406.6 218.2L403.5 212.1L409.9 214.4L416.3 216.7L413.2 210.7L406.8 208.4M426.0 204.0L429.1 210.1L432.1 216.1L437.8 212.4L434.7 206.3L431.6 200.3L425.3 197.9L422.2 191.9L415.8 189.6L418.9 195.6L421.9 201.7L425.0 207.7L431.4 210.1L437.0 206.3L440.1 212.4M414.0 194.0L417.1 200.1L422.7 196.3L425.8 202.4L432.2 204.7L429.1 198.6L434.7 194.9L428.3 192.6L422.0 190.3L415.6 187.9L418.6 194.0L412.2 191.7L405.8 189.4L400.2 193.1L393.8 190.8M434.0 198.0L437.1 204.1L440.1 210.1L434.5 213.8L428.1 211.5L433.7 207.8L436.8 213.8L430.4 211.5L427.3 205.5L424.3 199.4L418.6 203.2L421.7 209.2L416.0 213.0L410.4 216.7L407.3 210.6M420.0 212.0L413.6 209.7L410.5 203.6L404.9 207.4L398.5 205.1L401.6 211.1L407.2 207.4L410.3 213.4L415.9 209.7L421.6 205.9L427.2 202.2L424.1 196.2L418.5 199.9L415.4 193.8L409.8 197.6" stroke="#6a2547" stroke-width="0.6" fill="none" stroke-linejoin="round" stroke-opacity="0.85"/>
<path d="M364.0 204.0L358.4 207.7L361.4 213.8L355.0 211.5L349.4 215.2L355.8 217.5L362.2 219.8L368.6 222.2L362.9 225.9L356.5 223.6L353.5 217.5L359.9 219.8L356.8 213.8L351.1 217.5L348.1 211.5L353.7 207.7M378.0 216.0L384.4 218.3L378.7 222.1L385.1 224.4L382.1 218.3L379.0 212.3L376.0 206.2L381.6 202.5L375.2 200.2L378.3 206.2L383.9 202.5L389.6 198.7L386.5 192.7L380.1 190.4L373.7 188.1L370.7 182.0M352.0 198.0L357.6 194.3L354.6 188.2L348.9 191.9L343.3 195.7L349.7 198.0L356.1 200.3L350.4 204.1L347.4 198.0L344.3 191.9L350.7 194.3L357.1 196.6L360.2 202.6L366.6 204.9L360.9 208.7L364.0 214.7M382.0 192.0L378.9 185.9L373.3 189.7L376.4 195.7L370.7 199.5L367.7 193.4L362.0 197.2L368.4 199.5L371.5 205.5L377.1 201.8L382.7 198.1L379.7 192.0L385.3 188.3L388.4 194.3L391.5 200.4L385.1 198.1M358.0 222.0L361.1 228.1L366.7 224.3L373.1 226.6L376.2 232.7L369.8 230.4L363.4 228.1L357.7 231.8L354.7 225.7L360.3 222.0L357.3 215.9L350.9 213.6L347.8 207.6L342.2 211.3L348.5 213.6L354.9 215.9M370.0 190.0L373.1 196.1L376.1 202.1L381.8 198.4L375.4 196.1L369.0 193.7L365.9 187.7L360.3 191.4L357.2 185.4L363.6 187.7L369.3 183.9L372.3 190.0L378.7 192.3L385.1 194.6L379.5 198.4L385.8 200.7M386.0 210.0L379.6 207.7L382.7 213.7L377.0 217.5L380.1 223.5L385.7 219.8L379.3 217.5L382.4 223.5L388.8 225.8L383.1 229.6L376.8 227.3L373.7 221.2L370.6 215.2L364.2 212.9L361.2 206.8L358.1 200.8" stroke="#b8601c" stroke-width="0.6" fill="none" stroke-linejoin="round" stroke-opacity="0.85"/>
</svg>
</body></html>
